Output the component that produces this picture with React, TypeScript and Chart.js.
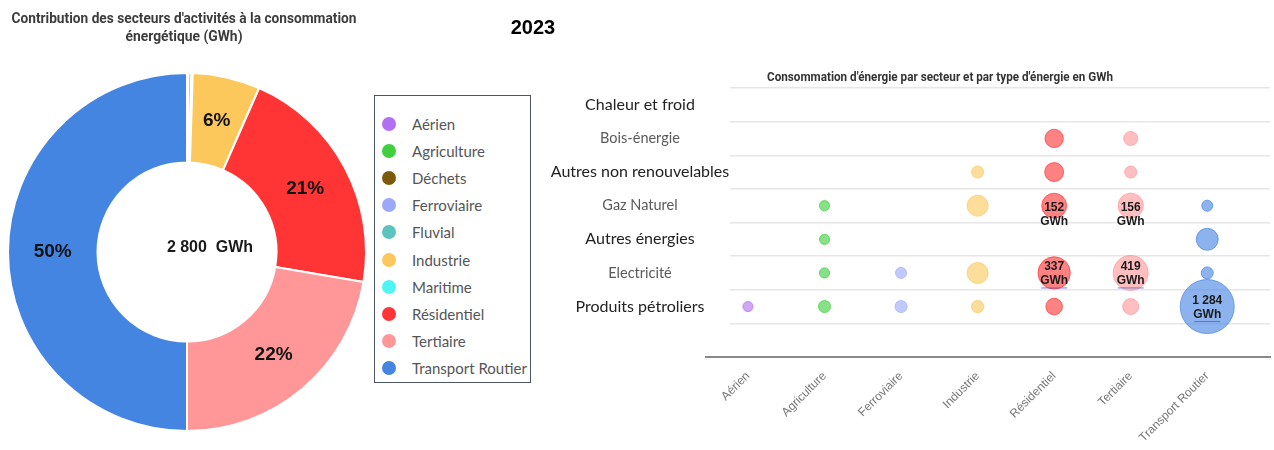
import React, { useEffect, useRef } from 'react';
import { Chart, registerables } from 'chart.js';

Chart.register(...registerables);

// ---------- Donut data ----------
const sectors = ['Aérien', 'Agriculture', 'Déchets', 'Ferroviaire', 'Fluvial', 'Industrie', 'Maritime', 'Résidentiel', 'Tertiaire', 'Transport Routier'];
const sectorColors = ['#b36ff2', '#3fcf3f', '#7d5a0a', '#9ca9fa', '#5cc4bf', '#fcc85c', '#4ff4f4', '#ff3535', '#ff9799', '#4585e2'];
const sectorTotals = [4, 7, 1, 2, 0.5, 170, 0.5, 590, 625, 1400]; // GWh

const donutTitleLines = ["Contribution des secteurs d'activités à la consommation", 'énergétique (GWh)'];
const yearLabel = '2023';

// ---------- Bubble data ----------
const bubbleTitle = "Consommation d'énergie par secteur et par type d'énergie en GWh";
const bubbleSectors = ['Aérien', 'Agriculture', 'Ferroviaire', 'Industrie', 'Résidentiel', 'Tertiaire', 'Transport Routier'];
const energyTypes = ['Chaleur et froid', 'Bois-énergie', 'Autres non renouvelables', 'Gaz Naturel', 'Autres énergies', 'Electricité', 'Produits pétroliers'];
const yTickLabels = [...energyTypes, ''];

// GWh per energy type (same order as energyTypes), null = no consumption
const aerien = [null, null, null, null, null, null, 0.2];
const agriculture = [null, null, null, 0.2, 0.2, 0.3, 4];
const ferroviaire = [null, null, null, null, null, 1.3, 4];
const industrie = [null, null, 4, 85, null, 85, 5];
const residentiel = [null, 50, 57, 152, null, 337, 32];
const tertiaire = [null, 13, 4, 156, null, 419, 27];
const transportRoutier = [null, null, null, 1.3, 100, 4, 1284];
const seriesBySector = [aerien, agriculture, ferroviaire, industrie, residentiel, tertiaire, transportRoutier];

// ---------- styles ----------
const rowFontSizes = [16, 14.5, 16, 14.5, 16, 14.5, 16];
const rowColors = ['#222', '#5a5a5a', '#222', '#5a5a5a', '#222', '#5a5a5a', '#222'];
const LABEL_MIN = 150;

const fmt = (v: number) => String(Math.round(v)).replace(/\B(?=(\d{3})+(?!\d))/g, ' ');
const hexToRgba = (hex: string, a: number) => {
  const n = parseInt(hex.slice(1), 16);
  return `rgba(${(n >> 16) & 255},${(n >> 8) & 255},${n & 255},${a})`;
};
const colorOf = (s: string) => sectorColors[sectors.indexOf(s)];
const radiusOf = (v: number) => 4.8 + 0.62 * Math.sqrt(v);

const donutPlugin = {
  id: 'donutText',
  afterDraw(chart: any) {
    const { ctx } = chart;
    const meta = chart.getDatasetMeta(0);
    const data = chart.data.datasets[0].data as number[];
    const total = data.reduce((a, b) => a + b, 0);
    ctx.save();
    ctx.fillStyle = '#3c3c3c';
    ctx.textAlign = 'center';
    ctx.textBaseline = 'middle';
    ctx.font = 'bold 15px Roboto, "Liberation Sans", sans-serif';
    ctx.fillText(donutTitleLines[0], 184, 19, 345);
    ctx.fillText(donutTitleLines[1], 184, 37, 117);
    ctx.fillStyle = '#111';
    ctx.font = 'bold 19px "Liberation Sans", Arial, sans-serif';
    meta.data.forEach((el: any, i: number) => {
      const pct = (data[i] / total) * 100;
      if (pct < 3) return;
      const p = el.tooltipPosition();
      ctx.fillText(Math.round(pct) + '%', p.x, p.y);
    });
    const el0 = meta.data[0];
    ctx.font = 'bold 16px "Liberation Sans", Arial, sans-serif';
    ctx.fillStyle = '#1a1a1a';
    ctx.fillText(`${fmt(total)}  GWh`, el0.x + 23, el0.y - 4);
    ctx.restore();
  },
};

const bubblePlugin = {
  id: 'bubbleText',
  afterDraw(chart: any) {
    const { ctx, chartArea } = chart;
    ctx.save();
    // extend the x axis line to the left, as in the original
    ctx.strokeStyle = '#8a8a8a';
    ctx.lineWidth = 2;
    ctx.beginPath();
    ctx.moveTo(170, chartArea.bottom);
    ctx.lineTo(chartArea.left + 1, chartArea.bottom);
    ctx.stroke();

    ctx.fillStyle = '#333';
    ctx.textAlign = 'center';
    ctx.textBaseline = 'middle';
    ctx.font = 'bold 12px Roboto, "Liberation Sans", sans-serif';
    ctx.fillText(bubbleTitle, 405, 78, 346);
    ctx.font = 'bold 12px "Liberation Sans", Arial, sans-serif';
    chart.data.datasets.forEach((ds: any, di: number) => {
      const meta = chart.getDatasetMeta(di);
      ds.data.forEach((pt: any, pi: number) => {
        if (pt.v < LABEL_MIN) return;
        const el = meta.data[pi];
        const big = pt.r >= 15;
        const y1 = big ? el.y - 6 : el.y + 2;
        ctx.fillStyle = '#1a1a1a';
        ctx.fillText(fmt(pt.v), el.x, y1);
        ctx.fillText('GWh', el.x, y1 + 14);
        if (big) {
          ctx.strokeStyle = 'rgba(70,90,220,0.75)';
          ctx.lineWidth = 1;
          ctx.beginPath();
          ctx.moveTo(el.x - 13, y1 + 21);
          ctx.lineTo(el.x + 13, y1 + 21);
          ctx.stroke();
        }
      });
    });
    ctx.restore();
  },
};

function Donut() {
  const ref = useRef<HTMLCanvasElement>(null);
  useEffect(() => {
    const chart = new Chart(ref.current!, {
      type: 'doughnut',
      data: {
        labels: sectors,
        datasets: [{
          data: sectorTotals,
          backgroundColor: sectorColors,
          borderColor: '#ffffff',
          borderWidth: 2,
        }],
      },
      options: {
        responsive: false,
        animation: false,
        cutout: '50%',
        layout: { padding: { left: 7, top: 72, right: 5, bottom: 18 } },
        plugins: { legend: { display: false }, tooltip: { enabled: false } },
      },
      plugins: [donutPlugin],
    });
    return () => chart.destroy();
  }, []);
  return <canvas ref={ref} width={372} height={450} style={{ position: 'absolute', left: 0, top: 0 }} />;
}

function Bubbles() {
  const ref = useRef<HTMLCanvasElement>(null);
  useEffect(() => {
    const mctx = document.createElement('canvas').getContext('2d')!;
    let widest = 0;
    energyTypes.forEach((t, i) => {
      mctx.font = `${rowFontSizes[i]}px Lato, "Open Sans", sans-serif`;
      widest = Math.max(widest, mctx.measureText(t).width);
    });
    const yAxisWidth = 195;
    const labelCenter = 105;
    const datasets = bubbleSectors.map((s, si) => ({
      label: s,
      data: seriesBySector[si]
        .map((v, ri) => (v == null ? null : { x: si, y: energyTypes[ri], r: radiusOf(v), v }))
        .filter((p) => p !== null),
      backgroundColor: hexToRgba(colorOf(s), 0.62),
      borderColor: hexToRgba(colorOf(s), 0.7),
      borderWidth: 1,
    }));
    const chart = new Chart(ref.current!, {
      type: 'bubble',
      data: { datasets: datasets as any },
      options: {
        responsive: false,
        animation: false,
        layout: { autoPadding: false, padding: { left: 0, top: 88, right: 4, bottom: 0 } },
        plugins: { legend: { display: false }, tooltip: { enabled: false } },
        scales: {
          x: {
            type: 'linear',
            min: -0.235,
            max: 6.82,
            afterBuildTicks: (scale: any) => {
              scale.ticks = bubbleSectors.map((_, i) => ({ value: i }));
            },
            afterFit: (scale: any) => {
              scale.height = 93;
              scale.paddingLeft = 0;
              scale.paddingRight = 0;
            },
            ticks: {
              callback: (v: any) => bubbleSectors[v] ?? '',
              minRotation: 45,
              maxRotation: 45,
              autoSkip: false,
              padding: 4,
              color: '#777',
              font: { family: '"Liberation Sans", Arial, sans-serif', size: 12 },
            },
            grid: { display: false },
            border: { display: true, color: '#8a8a8a', width: 2 },
          },
          y: {
            type: 'category',
            labels: yTickLabels,
            offset: true,
            afterFit: (scale: any) => {
              scale.width = yAxisWidth;
              scale.paddingTop = 0;
              scale.paddingBottom = 0;
            },
            ticks: {
              crossAlign: 'center',
              padding: yAxisWidth - labelCenter - widest / 2,
              autoSkip: false,
              font: (c: any) => ({ family: 'Lato, "Open Sans", sans-serif', size: rowFontSizes[c.index] ?? 14 }),
              color: (c: any) => rowColors[c.index] ?? '#666',
            },
            grid: { offset: true, drawTicks: false, color: '#e6e6e6', lineWidth: 1.5 },
            border: { display: false },
          },
        },
      } as any,
      plugins: [bubblePlugin],
    });
    return () => chart.destroy();
  }, []);
  return <canvas ref={ref} width={739} height={450} style={{ position: 'absolute', left: 535, top: 0 }} />;
}

function Legend() {
  return (
    <div style={{
      position: 'absolute', left: 374, top: 95, width: 157, height: 288,
      border: '1.5px solid #4d5566', boxSizing: 'border-box', paddingTop: 14,
      fontFamily: 'Lato, "Open Sans", sans-serif', fontSize: 15, color: '#555',
    }}>
      {sectors.map((s, i) => (
        <div key={s} style={{ display: 'flex', alignItems: 'center', height: 27.2 }}>
          <span style={{ display: 'inline-block', width: 14, height: 14, borderRadius: 7, background: sectorColors[i], marginLeft: 7 }} />
          <span style={{ marginLeft: 16, whiteSpace: 'nowrap' }}>{s}</span>
        </div>
      ))}
    </div>
  );
}

export default function App() {
  return (
    <div style={{ position: 'absolute', left: 0, top: 0, width: 1274, height: 450, background: '#fff', overflow: 'hidden' }}>
      <Donut />
      <Bubbles />
      <Legend />
      <div style={{
        position: 'absolute', left: 500, top: 16, width: 66, textAlign: 'center', lineHeight: '23px',
        fontFamily: '"Liberation Sans", Arial, sans-serif', fontWeight: 'bold', fontSize: 20, color: '#000',
      }}>{yearLabel}</div>
    </div>
  );
}
